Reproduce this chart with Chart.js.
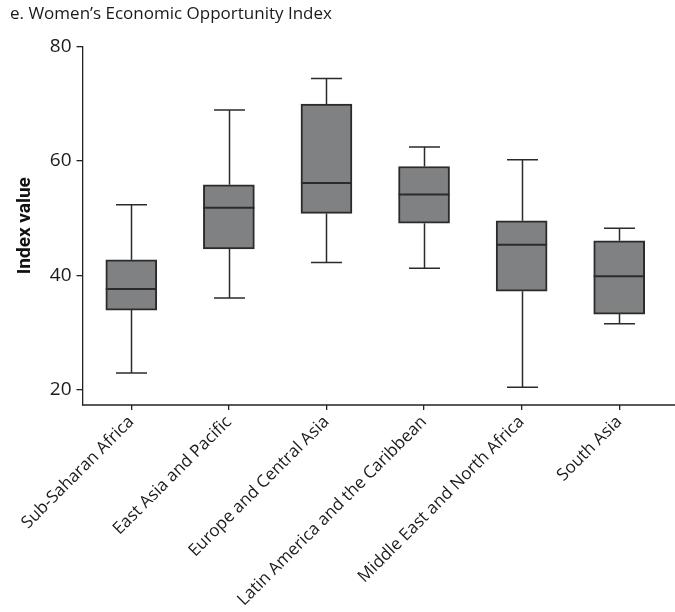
<!DOCTYPE html>
<html>
<head>
<meta charset="utf-8">
<script src="https://cdn.jsdelivr.net/npm/chart.js@4.4.1/dist/chart.umd.min.js"></script>
<style>
  html, body { margin: 0; padding: 0; background: #ffffff; }
  #wrap { width: 675px; height: 612px; position: relative; }
</style>
</head>
<body>
<div id="wrap"><canvas id="chart-box"></canvas></div>
<script>
/* box plot — Women's Economic Opportunity Index by region */

const regiones = [
  'Sub-Saharan Africa',
  'East Asia and Pacific',
  'Europe and Central Asia',
  'Latin America and the Caribbean',
  'Middle East and North Africa',
  'South Asia',
];
const bigoteBajo = [22.9, 36.0, 42.2, 41.2, 20.4, 31.5];
const cuartil1   = [33.9, 44.6, 50.8, 49.1, 37.2, 33.2];
const medianas   = [37.6, 51.8, 56.1, 54.1, 45.3, 39.8];
const cuartil3   = [42.7, 55.8, 69.9, 59.0, 49.5, 46.0];
const bigoteAlto = [52.3, 68.9, 74.4, 62.4, 60.2, 48.2];
const ticksY     = [20, 40, 60, 80];

const FONT = "'Open Sans', 'Noto Sans', sans-serif";
const INK  = '#2b2b2b';
const BOX_W = 51;
const CAP_W = 31;

// whiskers + median, placed with the chart's own scales
const bigotesPlugin = {
  id: 'bigotes',
  beforeDatasetsDraw(chart) {
    const {ctx, scales: {x, y}, chartArea} = chart;
    ctx.save();
    // x axis line, from the y axis to the canvas edge
    ctx.lineWidth = 1.3;
    ctx.strokeStyle = '#222';
    ctx.beginPath();
    ctx.moveTo(chartArea.left - 0.6, chartArea.bottom);
    ctx.lineTo(chart.width, chartArea.bottom);
    ctx.stroke();

    ctx.strokeStyle = INK;
    ctx.lineWidth = 1.5;
    regiones.forEach((r, i) => {
      const cx = Math.round(x.getPixelForValue(i)) + 0.5;
      const yLo = y.getPixelForValue(bigoteBajo[i]);
      const yHi = y.getPixelForValue(bigoteAlto[i]);
      const yQ1 = y.getPixelForValue(cuartil1[i]);
      const yQ3 = y.getPixelForValue(cuartil3[i]);
      ctx.beginPath();
      ctx.moveTo(cx, yHi); ctx.lineTo(cx, yQ3);
      ctx.moveTo(cx, yQ1); ctx.lineTo(cx, yLo);
      ctx.moveTo(cx - CAP_W / 2, yHi); ctx.lineTo(cx + CAP_W / 2, yHi);
      ctx.moveTo(cx - CAP_W / 2, yLo); ctx.lineTo(cx + CAP_W / 2, yLo);
      ctx.stroke();
    });
    ctx.restore();
  },
  afterDatasetsDraw(chart) {
    const {ctx, scales: {x, y}} = chart;
    ctx.save();
    ctx.strokeStyle = INK;
    ctx.lineWidth = 2;
    regiones.forEach((r, i) => {
      const cx = x.getPixelForValue(i);
      const ym = y.getPixelForValue(medianas[i]);
      ctx.beginPath();
      ctx.moveTo(cx - BOX_W / 2, ym); ctx.lineTo(cx + BOX_W / 2, ym);
      ctx.stroke();
    });
    ctx.restore();
  }
};

new Chart(document.getElementById('chart-box'), {
  type: 'bar',
  data: {
    labels: regiones,
    datasets: [{
      label: 'Index',
      data: regiones.map((r, i) => [cuartil1[i], cuartil3[i]]),
      backgroundColor: '#808182',
      borderColor: INK,
      borderWidth: 2,
      borderSkipped: false,
      barThickness: BOX_W,
    }]
  },
  options: {
    responsive: true,
    maintainAspectRatio: false,
    animation: false,
    layout: { padding: { left: 10, right: 7, top: 0, bottom: 0 } },
    plugins: {
      legend: { display: false },
      tooltip: { enabled: false },
      title: {
        display: true,
        text: 'e. Women\u2019s Economic Opportunity Index',
        align: 'start',
        color: '#1a1a1a',
        font: { family: FONT, size: 17, weight: 'normal' },
        padding: { top: 4, bottom: 22 },
      }
    },
    scales: {
      y: {
        min: 17.3,
        max: 80,
        afterBuildTicks: s => { s.ticks = ticksY.map(v => ({ value: v })); },
        afterFit: s => { s.width = 72.5; },
        border: { display: true, color: '#222', width: 1.3 },
        grid: { drawOnChartArea: false, tickLength: 6, color: '#222', lineWidth: 1.3 },
        ticks: { color: '#1a1a1a', padding: 5, font: { family: FONT, size: 19 } },
        title: {
          display: true,
          text: 'Index value',
          color: '#111',
          padding: { top: 4, bottom: 0 },
          font: { family: "Roboto, 'Liberation Sans', sans-serif", size: 19, weight: 'bold' },
        }
      },
      x: {
        offset: true,
        afterFit: s => { s.height = 207; },
        border: { display: false },
        grid: {
          offset: false,
          drawOnChartArea: false,
          tickLength: 5,
          lineWidth: 1.3,
          color: c => (c.index < regiones.length ? '#222' : 'rgba(0,0,0,0)'),
        },
        ticks: {
          color: '#1a1a1a',
          autoSkip: false,
          minRotation: 45,
          maxRotation: 45,
          padding: 2,
          font: { family: FONT, size: 17 },
        }
      }
    }
  },
  plugins: [bigotesPlugin]
});
</script>
</body>
</html>
